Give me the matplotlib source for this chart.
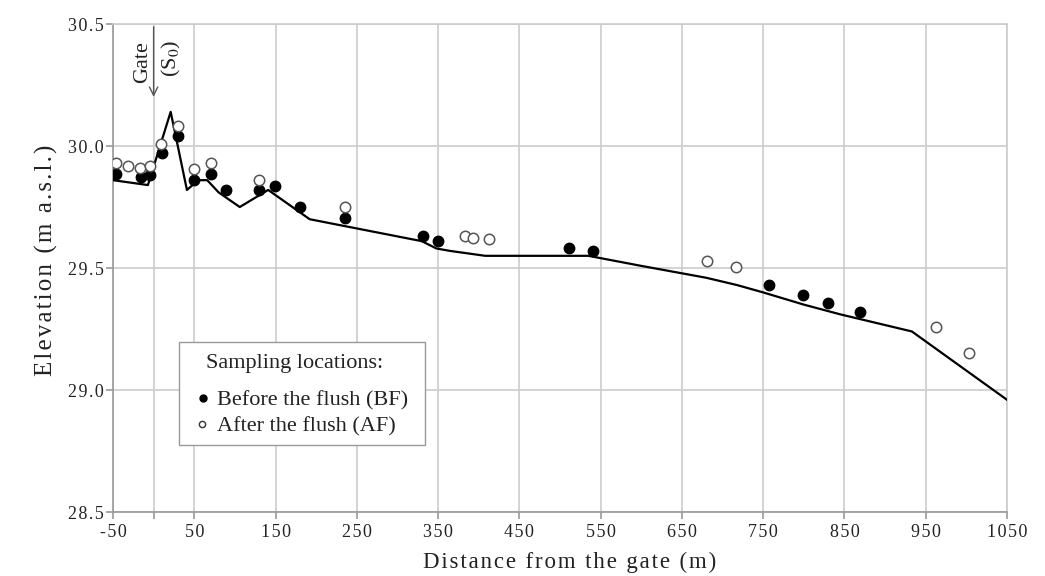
import matplotlib.pyplot as plt
from matplotlib.patches import Rectangle

plt.rcParams['font.family'] = ['Liberation Serif', 'DejaVu Serif']
plt.rcParams['mathtext.fontset'] = 'stix'

# bed profile (line)
prof_x = [-50, -7, 21, 41, 55, 66, 80, 106, 141, 192, 238, 330, 348, 365, 408,
          535, 598, 680, 718, 750, 800, 845, 933, 1050]
prof_y = [29.86, 29.84, 30.14, 29.82, 29.86, 29.86, 29.81, 29.75, 29.82, 29.70,
          29.67, 29.61, 29.58, 29.57, 29.55, 29.55, 29.51, 29.46, 29.43, 29.40,
          29.35, 29.31, 29.24, 28.96]

# before the flush (BF)
bf_x = [-46, -16, -5, 10, 30, 50, 71, 89, 130, 149, 180, 236, 331, 350, 511,
        541, 757, 799, 830, 869]
bf_y = [29.885, 29.875, 29.88, 29.97, 30.04, 29.86, 29.885, 29.82, 29.82, 29.835,
        29.75, 29.705, 29.63, 29.61, 29.58, 29.57, 29.43, 29.39, 29.355, 29.32]

# after the flush (AF)
af_x = [-46, -31, -17, -5, 9, 30, 50, 71, 130, 236, 383, 393, 413, 681, 717,
        963, 1003]
af_y = [29.93, 29.92, 29.91, 29.92, 30.01, 30.08, 29.905, 29.93, 29.86, 29.75,
        29.63, 29.625, 29.62, 29.53, 29.505, 29.26, 29.15]

xticks = [-50, 0, 50, 150, 250, 350, 450, 550, 650, 750, 850, 950, 1050]
xlabels = ['-50', '', '50', '150', '250', '350', '450', '550', '650', '750',
           '850', '950', '1050']
yticks = [28.5, 29.0, 29.5, 30.0, 30.5]
ylabels = ['28.5', '29.0', '29.5', '30.0', '30.5']
txt = '#222222'


def spaced(s):
    # old-style letter spacing
    return '\u200a'.join(s)


fig = plt.figure(figsize=(10.45, 5.76), dpi=100)
ax = fig.add_axes([0.1081, 0.1111, 0.8555, 0.8472])

ax.plot(prof_x, prof_y, color='black', lw=1.6, zorder=3)
ax.plot(bf_x, bf_y, 'o', color='black', ms=7.5, zorder=4)
ax.plot(af_x, af_y, 'o', mfc='white', mec='#555555', mew=1.1, ms=7.5, zorder=4)

ax.set_xlim(-50, 1050)
ax.set_ylim(28.5, 30.5)
ax.set_xticks(xticks)
ax.set_xticklabels([spaced(t) for t in xlabels])
ax.set_yticks(yticks)
ax.set_yticklabels([spaced(t) for t in ylabels])
ax.grid(True, color='#cccccc', lw=1.2)
ax.set_axisbelow(True)
for s in ['top', 'right']:
    ax.spines[s].set_color('#cccccc')
    ax.spines[s].set_linewidth(1.2)
for s in ['left', 'bottom']:
    ax.spines[s].set_color('#999999')
    ax.spines[s].set_linewidth(1.2)
ax.tick_params(colors='#999999', labelcolor=txt, labelsize=13, length=5,
               width=1.2)
ax.tick_params(axis='y', pad=1.5)

ax.set_xlabel(spaced('Distance from the gate (m)'), fontsize=16.5, color=txt)
ax.xaxis.set_label_coords(0.511, -0.082)
ax.set_ylabel(spaced('Elevation (m a.s.l.)'), fontsize=18, color=txt)
ax.yaxis.set_label_coords(-0.062, 0.516)

# gate annotation
ax.annotate('', xy=(0, 30.19), xytext=(0, 30.5),
            arrowprops=dict(arrowstyle='->,head_length=0.6,head_width=0.3',
                            color='#555555', lw=1.0))
ax.text(-14, 30.345, 'Gate', rotation=90, ha='center', va='center', fontsize=16,
        color=txt)
ax.text(22, 30.36, r'(S$_0$)', rotation=90, ha='center', va='center', fontsize=16,
        color=txt)

# sampling-locations box
ax.add_patch(Rectangle((0.0742, 0.1373), 0.2748, 0.2117, transform=ax.transAxes,
                       fc='white', ec='#999999', lw=1.0, zorder=5))
ax.text(0.1040, 0.3053, 'Sampling locations:', transform=ax.transAxes, fontsize=16,
        ha='left', va='center', color=txt, zorder=6)
ax.plot([0.1010], [0.2335], 'o', color='black', ms=5, transform=ax.transAxes,
        zorder=6)
ax.plot([0.1000], [0.1802], 'o', mfc='white', mec='#333333', mew=1.0, ms=4.5,
        transform=ax.transAxes, zorder=6)
ax.text(0.1160, 0.2275, 'Before the flush (BF)', transform=ax.transAxes,
        fontsize=16, ha='left', va='center', color=txt, zorder=6)
ax.text(0.1160, 0.1742, 'After the flush (AF)', transform=ax.transAxes,
        fontsize=16, ha='left', va='center', color=txt, zorder=6)

fig.savefig('out.png', dpi=100)
